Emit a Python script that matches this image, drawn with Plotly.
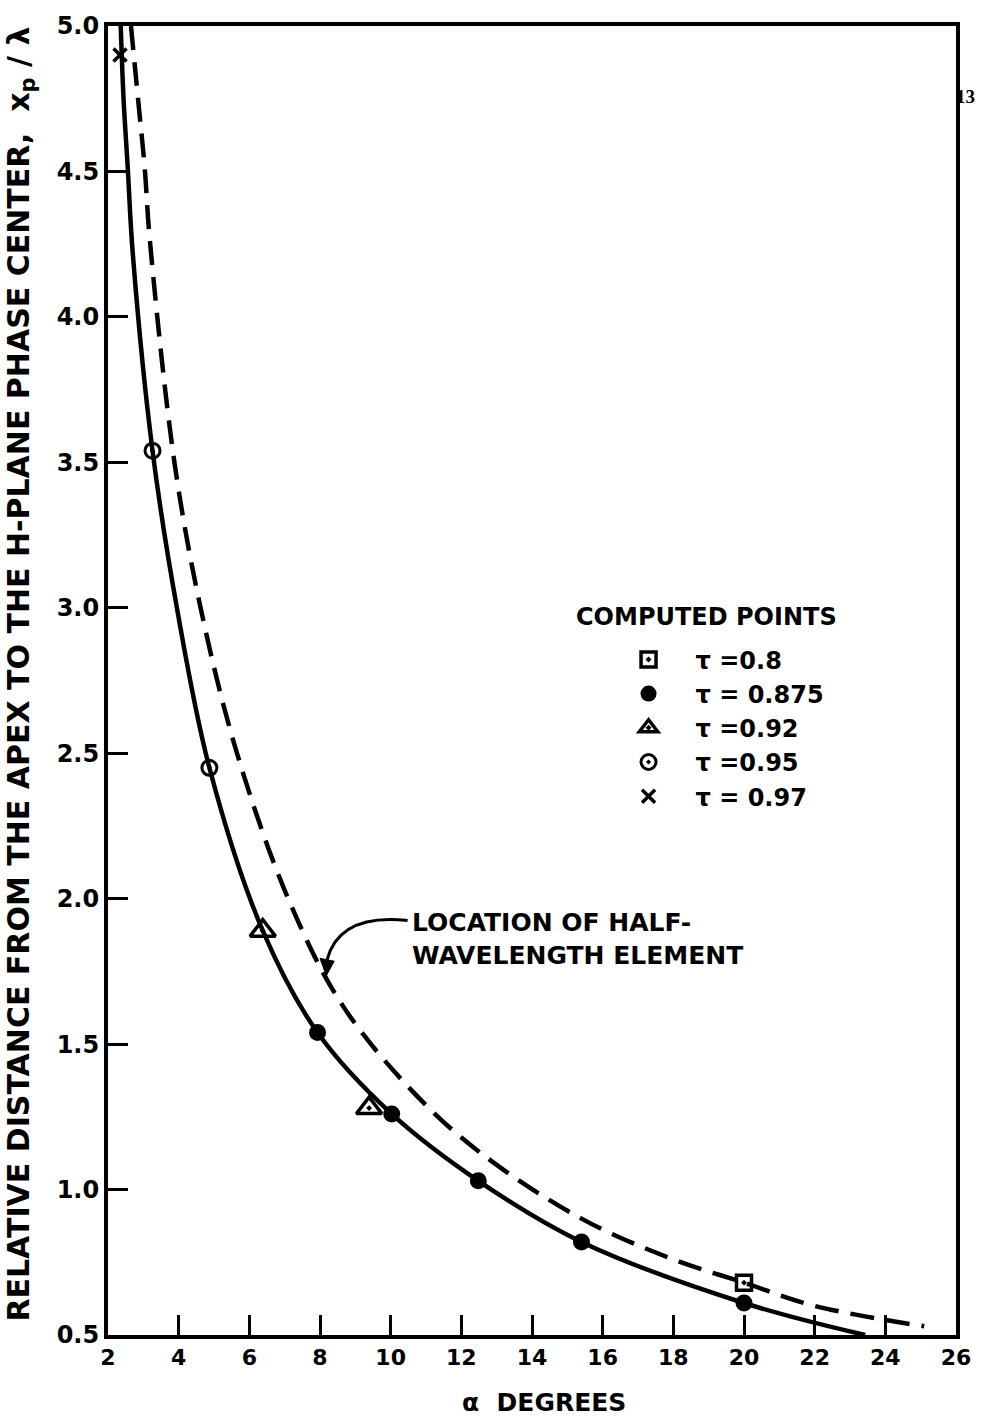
import plotly.graph_objects as go

# Faired curves (alpha in degrees vs x_p / lambda)
phase_alpha = [2.36, 2.44, 2.56, 2.70, 3.26, 3.95, 4.87, 6.38, 7.93, 10.03, 12.48, 15.4, 20.0, 23.43]
phase_xp = [5.0, 4.75, 4.51, 4.22, 3.54, 3.0, 2.45, 1.89, 1.54, 1.26, 1.03, 0.82, 0.61, 0.5]

halfwave_alpha = [2.65, 2.85, 3.04, 3.18, 3.88, 4.62, 5.65, 7.1, 8.6, 10.6, 12.5, 15.4, 18.0, 20.0, 22.0, 25.1]
halfwave_xp = [5.0, 4.75, 4.51, 4.27, 3.5, 3.0, 2.5, 2.0, 1.64, 1.34, 1.13, 0.90, 0.76, 0.68, 0.60, 0.53]

# Computed points for each tau
tau_080_alpha = [20.0]
tau_080_xp = [0.68]
tau_0875_alpha = [7.93, 10.03, 12.48, 15.4, 20.0]
tau_0875_xp = [1.54, 1.26, 1.03, 0.82, 0.61]
tau_092_alpha = [6.38, 9.39]
tau_092_xp = [1.89, 1.28]
tau_095_alpha = [3.26, 4.87]
tau_095_xp = [3.54, 2.45]
tau_097_alpha = [2.34]
tau_097_xp = [4.90]

x_ticks = list(range(2, 27, 2))
y_ticks = [0.5, 1.0, 1.5, 2.0, 2.5, 3.0, 3.5, 4.0, 4.5, 5.0]

BOLD = dict(family="DejaVu Sans", color="black", weight="bold")

fig = go.Figure()

fig.add_trace(go.Scatter(
    x=phase_alpha, y=phase_xp, mode="lines", showlegend=False,
    line=dict(color="black", width=4.5, shape="spline", smoothing=1.0),
))
fig.add_trace(go.Scatter(
    x=halfwave_alpha, y=halfwave_xp, mode="lines", showlegend=False,
    line=dict(color="black", width=4.5, shape="spline", smoothing=1.0, dash="24px,12px"),
))

series = [
    ("τ =0.8", tau_080_alpha, tau_080_xp, dict(symbol="square-open-dot", size=15, color="black", line=dict(width=3.5, color="black"))),
    ("τ = 0.875", tau_0875_alpha, tau_0875_xp, dict(symbol="circle", size=17, color="black", line=dict(width=0))),
    ("τ =0.92", tau_092_alpha, tau_092_xp, dict(symbol="triangle-up-open-dot", size=22, color="black", line=dict(width=3.5, color="black"))),
    ("τ =0.95", tau_095_alpha, tau_095_xp, dict(symbol="circle-open-dot", size=15, color="black", line=dict(width=3, color="black"))),
    ("τ = 0.97", tau_097_alpha, tau_097_xp, dict(symbol="x-thin-open", size=13, color="black", line=dict(width=3.5, color="black"))),
]
for name, xs, ys, mk in series:
    fig.add_trace(go.Scatter(x=xs, y=ys, mode="markers", name=name, marker=mk))

axis_common = dict(
    showline=True, linewidth=4, linecolor="black", mirror=True,
    ticks="inside", ticklen=20, tickwidth=3, tickcolor="black",
    showgrid=False, zeroline=False,
)

fig.update_xaxes(range=[2, 26], tickvals=x_ticks, tickfont=dict(size=22, **BOLD), **axis_common)
fig.update_yaxes(range=[0.5, 5.0], tickvals=y_ticks, tickformat=".1f",
                 tickfont=dict(size=24, **BOLD), **axis_common)

fig.update_layout(
    width=983, height=1423,
    margin=dict(l=108, r=16, t=17, b=88),
    plot_bgcolor="white", paper_bgcolor="white",
    legend=dict(
        x=0.582, y=0.533, xanchor="left", yanchor="top",
        font=dict(size=24, **BOLD),
        itemwidth=84,
        bgcolor="rgba(0,0,0,0)",
    ),
)

# Curved leader from the note to the dashed curve, with a filled arrowhead
fig.add_shape(type="path", xref="x", yref="y",
              path="M 10.48,1.925 Q 8.55,1.95 8.2,1.79",
              line=dict(color="black", width=3))
fig.add_shape(type="path", xref="x", yref="y",
              path="M 8.0,1.795 L 8.40,1.785 L 8.18,1.735 Z",
              fillcolor="black", line=dict(color="black", width=1))

fig.add_annotation(x=10.55, y=1.86, xref="x", yref="y", xanchor="left", yanchor="middle",
                   text="LOCATION OF HALF-<br>WAVELENGTH ELEMENT", align="left",
                   showarrow=False, font=dict(size=25, **BOLD))

fig.add_annotation(x=(580 - 108) / 859, y=(1335 - 612) / 1318, xref="paper", yref="paper",
                   xanchor="left", yanchor="middle", text="COMPUTED POINTS",
                   showarrow=False, font=dict(size=24, **BOLD))

fig.add_annotation(x=-0.103, y=0.505, xref="paper", yref="paper", textangle=-90,
                   xanchor="center", yanchor="middle",
                   text="RELATIVE DISTANCE FROM THE APEX TO THE H-PLANE PHASE CENTER,  x<sub>p</sub> / λ",
                   showarrow=False, font=dict(size=30, **BOLD))

fig.add_annotation(x=(550 - 108) / 859, y=-(1403 - 1335) / 1318, xref="paper", yref="paper",
                   xanchor="center", yanchor="middle",
                   text="α  DEGREES", showarrow=False, font=dict(size=25, **BOLD))

# Page number at the right edge
fig.add_annotation(x=(965 - 108) / 859, y=(1335 - 88) / 1318, xref="paper", yref="paper",
                   xanchor="left", yanchor="middle", text="13",
                   showarrow=False, font=dict(size=19, family="Liberation Serif", color="black", weight="bold"))

fig.write_html("out.html")
